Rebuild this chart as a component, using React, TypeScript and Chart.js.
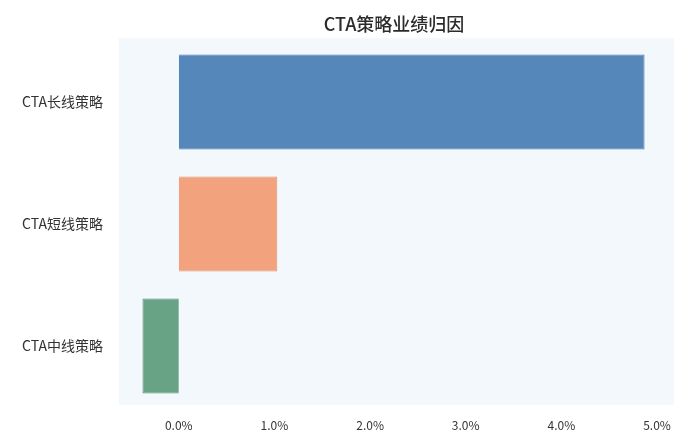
import React, { useEffect, useRef } from "react";
import { Chart, registerables } from "chart.js";

Chart.register(...registerables);

const TITLE = "CTA策略业绩归因";
const categories = ["CTA长线策略", "CTA短线策略", "CTA中线策略"];
const values = [4.87, 1.03, -0.38];
const barColors = ["#5687BB", "#F2A37E", "#69A386"];
const barBorders = ["#4A78A8", "#DE9270", "#5A8F74"];
const xMin = -0.5;
const xMax = 5.0;
const xStep = 1.0;

const FONT = "'Noto Sans CJK SC', 'Noto Sans', sans-serif";

const bgAndTitle = {
  id: "bgAndTitle",
  beforeDraw(chart: any) {
    const { ctx, chartArea } = chart;
    ctx.save();
    ctx.fillStyle = "#F3F8FC";
    ctx.fillRect(chartArea.left - 12, chartArea.top - 3, chartArea.right - chartArea.left + 29, chartArea.bottom - chartArea.top + 1);
    ctx.restore();
  },
  afterDraw(chart: any) {
    const { ctx, chartArea } = chart;
    ctx.save();
    ctx.fillStyle = "#2b2b2b";
    ctx.font = `500 18px ${FONT}`;
    ctx.textAlign = "center";
    ctx.textBaseline = "middle";
    ctx.fillText(TITLE, (chartArea.left + chartArea.right) / 2, 24);
    ctx.restore();
  },
};

export default function App() {
  const ref = useRef<HTMLCanvasElement>(null);
  useEffect(() => {
    if (!ref.current) return;
    const chart = new Chart(ref.current, {
      type: "bar",
      data: {
        labels: categories,
        datasets: [
          {
            data: values,
            backgroundColor: barColors,
            borderColor: barBorders,
            borderWidth: 1,
            categoryPercentage: 0.78,
            barPercentage: 1,
          },
        ],
      },
      options: {
        indexAxis: "y",
        responsive: false,
        animation: false,
        layout: { padding: { top: 41, right: 17, left: 0, bottom: 0 } },
        plugins: {
          legend: { display: false },
          tooltip: { enabled: false },
          title: { display: false },
        },
        scales: {
          x: {
            min: xMin,
            max: xMax,
            border: { display: false },
            grid: { display: false, drawTicks: false },
            afterBuildTicks: (s: any) => {
              const t = [];
              for (let v = 0; v <= xMax + 1e-9; v += xStep) t.push({ value: Math.round(v * 10) / 10 });
              s.ticks = t;
            },
            afterFit: (s: any) => {
              s.height = 26;
              s.paddingLeft = 0;
              s.paddingRight = 0;
              s.paddingTop = 0;
              s.paddingBottom = 0;
            },
            ticks: {
              padding: 11,
              color: "#333333",
              font: { family: FONT, size: 12 },
              callback: (v: any) => Number(v).toFixed(1) + "%",
            },
          },
          y: {
            border: { display: false },
            grid: { display: false, drawTicks: false },
            afterFit: (s: any) => {
              s.width = 131;
              s.paddingLeft = 0;
              s.paddingRight = 0;
              s.paddingTop = 0;
              s.paddingBottom = 0;
            },
            ticks: {
              padding: 28,
              color: "#333333",
              font: { family: FONT, size: 14 },
            },
          },
        },
      },
      plugins: [bgAndTitle],
    });
    return () => chart.destroy();
  }, []);
  return (
    <div style={{ position: "fixed", left: 0, top: 0, width: 674, height: 433, background: "#ffffff" }}>
      <canvas ref={ref} width={674} height={433} style={{ display: "block" }} />
    </div>
  );
}
